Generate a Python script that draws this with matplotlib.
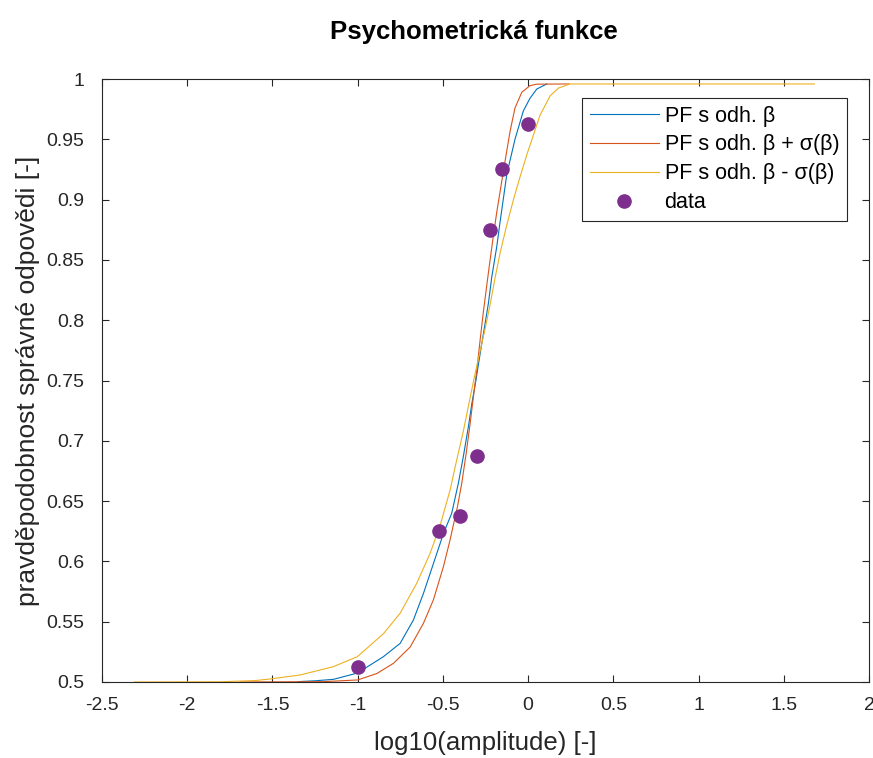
import matplotlib
matplotlib.use("Agg")
import matplotlib.pyplot as plt

plt.rcParams['font.family'] = ['Liberation Sans', 'DejaVu Sans']

#------------------------------DATA--------------------------------------------
# measured points (log10 of amplitude vs. proportion correct)
data_x = [-1.0, -0.523, -0.398, -0.301, -0.222, -0.155, 0.0]
data_y = [0.5125, 0.625, 0.6375, 0.6875, 0.875, 0.925, 0.9625]

# PF with estimated beta
pf_x = [-1.35, -1.25, -1.142, -1.0, -0.849, -0.751, -0.673, -0.614, -0.556,
        -0.497, -0.448, -0.409, -0.380, -0.350, -0.330, -0.305, -0.292,
        -0.262, -0.233, -0.213, -0.184, -0.164, -0.125, -0.077, -0.028,
        0.011, 0.051, 0.11]
pf_y = [0.5003, 0.501, 0.5022, 0.5075, 0.521, 0.532, 0.5514, 0.5735, 0.598,
        0.623, 0.640, 0.665, 0.687, 0.712, 0.731, 0.751, 0.763,
        0.789, 0.814, 0.836, 0.861, 0.882, 0.921, 0.950, 0.9735,
        0.984, 0.9917, 0.9959]

# PF with beta + sigma(beta)
pf_plus_x = [-1.69, -1.2, -1.0, -0.888, -0.790, -0.692, -0.614, -0.556,
             -0.497, -0.458, -0.428, -0.415, -0.389, -0.364, -0.340, -0.321,
             -0.300, -0.282, -0.262, -0.242, -0.223, -0.204, -0.184, -0.145,
             -0.106, -0.077, -0.037, 0.011, 0.05, 0.24]
pf_plus_y = [0.5, 0.5003, 0.5017, 0.507, 0.5155, 0.529, 0.5487, 0.568,
             0.5956, 0.6177, 0.637, 0.645, 0.665, 0.689, 0.7145, 0.7366,
             0.760, 0.783, 0.8075, 0.8296, 0.85, 0.870, 0.8895, 0.9236,
             0.9565, 0.976, 0.989, 0.9945, 0.9957, 0.9959]

# PF with beta - sigma(beta)
pf_minus_x = [-2.31, -1.8, -1.6, -1.514, -1.338, -1.143, -1.002, -0.849,
              -0.751, -0.653, -0.575, -0.516, -0.458, -0.419, -0.380, -0.350,
              -0.321, -0.292, -0.252, -0.223, -0.194, -0.164, -0.125, -0.086,
              -0.047, -0.008, 0.031, 0.070, 0.129, 0.178, 0.246, 1.68]
pf_minus_y = [0.5, 0.5002, 0.5012, 0.5025, 0.5058, 0.5127, 0.521, 0.540,
              0.557, 0.582, 0.6067, 0.630, 0.659, 0.684, 0.708, 0.729,
              0.749, 0.768, 0.793, 0.813, 0.835, 0.856, 0.879, 0.900,
              0.919, 0.937, 0.9535, 0.970, 0.986, 0.9925, 0.9959, 0.9959]

x_ticks = [-2.5, -2, -1.5, -1, -0.5, 0, 0.5, 1, 1.5, 2]
x_tick_labels = ['-2.5', '-2', '-1.5', '-1', '-0.5', '0', '0.5', '1', '1.5', '2']
y_ticks = [0.5, 0.55, 0.6, 0.65, 0.7, 0.75, 0.8, 0.85, 0.9, 0.95, 1]
y_tick_labels = ['0.5', '0.55', '0.6', '0.65', '0.7', '0.75', '0.8', '0.85',
                 '0.9', '0.95', '1']
#---------------------------------END DATA-------------------------------------

axis_col = '#262626'

fig = plt.figure(figsize=(8.73, 7.58), dpi=100)
ax = fig.add_axes([102/873, 1 - 682/758, 767/873, 603/758])

ax.plot(pf_x, pf_y, color='#0072BD', lw=0.8, label='PF s odh. β')
ax.plot(pf_plus_x, pf_plus_y, color='#D95319', lw=0.8, label='PF s odh. β + σ(β)')
ax.plot(pf_minus_x, pf_minus_y, color='#EDB120', lw=0.8, label='PF s odh. β - σ(β)')
ax.plot(data_x, data_y, 'o', color='#7E2F8E', markersize=9.5, label='data')

ax.set_xlim(-2.5, 2)
ax.set_ylim(0.5, 1)
ax.set_xticks(x_ticks)
ax.set_xticklabels(x_tick_labels)
ax.set_yticks(y_ticks)
ax.set_yticklabels(y_tick_labels)

ax.tick_params(direction='in', length=5, width=0.8, colors=axis_col,
               labelsize=14, top=True, right=True)
ax.tick_params(axis='x', pad=11)
ax.tick_params(axis='y', pad=13)
for s in ax.spines.values():
    s.set_color(axis_col)
    s.set_linewidth(0.8)

ax.set_xlabel('log10(amplitude) [-]', fontsize=18.5, color=axis_col, labelpad=12)
ax.set_ylabel('pravděpodobnost správné odpovědi [-]', fontsize=19,
              color=axis_col, labelpad=4)
ax.set_title('Psychometrická funkce', fontsize=18.5, fontweight='bold', pad=29,
             x=0.485)

leg = ax.legend(loc='upper right', bbox_to_anchor=(0.971, 0.9685),
                borderaxespad=0, fontsize=15.5, frameon=True, fancybox=False,
                framealpha=1, edgecolor=axis_col, handlelength=3.2,
                handletextpad=0.28, labelspacing=0.37, borderpad=0.35)
leg.get_frame().set_linewidth(0.8)

fig.savefig('out.png', dpi=100)
